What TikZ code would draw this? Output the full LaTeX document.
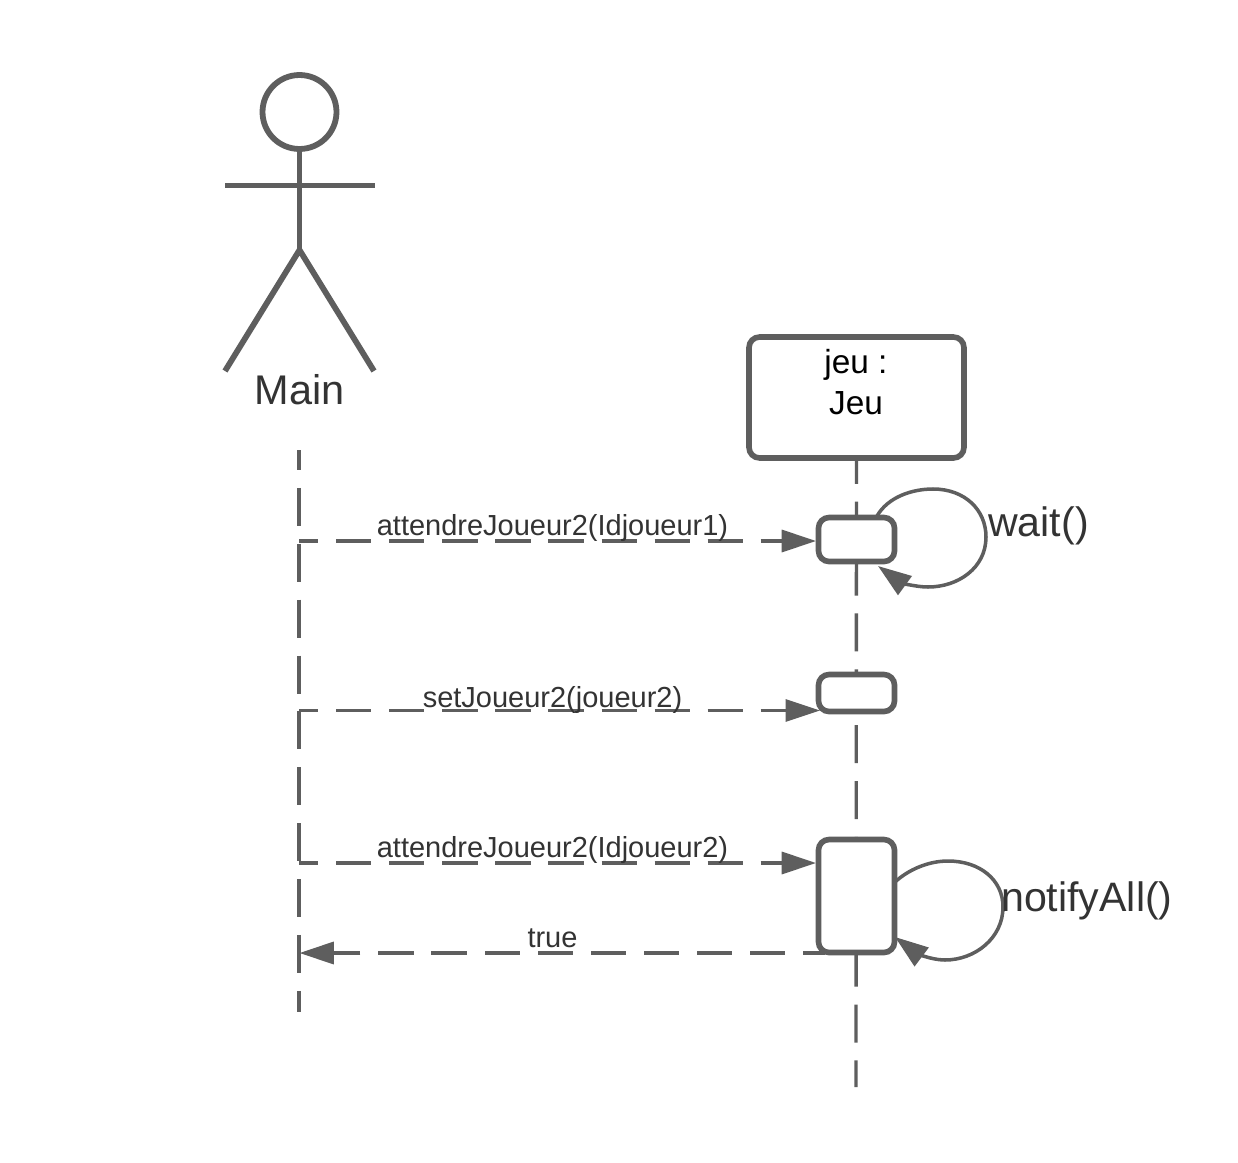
\documentclass[tikz,border=0pt]{standalone}
\usepackage{fontspec}
\setmainfont{Liberation Sans}
\usetikzlibrary{arrows.meta}
\definecolor{linegray}{HTML}{5E5E5E}
\definecolor{textgray}{HTML}{333333}
\tikzset{
    lifeline/.style={linegray, line width=1.9pt, dash pattern=on 21.6pt off 10.2pt},
    message/.style={linegray, line width=2pt, dash pattern=on 20pt off 10.2pt, dash phase=9pt, -{Triangle[length=19.5pt, width=12.5pt]}},
    selfcall/.style={linegray, line width=2pt, -{Triangle[length=19pt, width=13pt]}},
    activation/.style={draw=linegray, fill=white, line width=3.2pt, rounded corners=6pt, minimum width=1.52cm, inner sep=0pt},
    msglabel/.style={text=textgray, font=\fontsize{16.5}{19}\selectfont, anchor=base},
    calllabel/.style={text=textgray, font=\fontsize{23.4}{27}\selectfont, anchor=base west}
}
\begin{document}
\begin{tikzpicture}[x=0.02cm, y=-0.02cm]
    \useasboundingbox[fill=white] (0,0) rectangle (1238,1163);

    % Actor
    \node[circle, draw=linegray, line width=3.3pt, minimum size=1.48cm, inner sep=0pt] (head) at (299.5,112) {};
    \coordinate (hip) at (299.5,250);
    \coordinate (armL) at (225,185.5);
    \coordinate (armR) at (375,185.5);
    \coordinate (footL) at (225,371);
    \coordinate (footR) at (374,371);
    \draw[linegray, line width=3.3pt] (head.south) -- (hip);
    \draw[linegray, line width=3.3pt] (armL) -- (armR);
    \draw[linegray, line width=3.3pt] (footL) -- (hip) -- (footR);
    \node[text=textgray, font=\fontsize{23.6}{27}\selectfont, anchor=base] (main) at (299.5,404) {Main};

    % Lifelines
    \coordinate (mainTop) at (299,450);
    \coordinate (mainEnd) at (299,1012);
    \coordinate (jeuEnd) at (856,1087);
    \draw[lifeline, dash phase=10.2pt] (mainTop) -- (mainEnd);
    \node[draw=linegray, fill=white, line width=3.2pt, rounded corners=6pt, minimum width=4.3cm, minimum height=2.42cm, inner sep=0pt] (jeu) at (856.5,397.5) {};
    \draw[lifeline, dash phase=8.5pt] (jeu.south) -- (jeuEnd);
    \node[font=\fontsize{19}{23}\selectfont, align=center, anchor=base] (jeulabel) at (856,414) {jeu :\\Jeu};

    % Activations
    \node[activation, minimum height=0.88cm] (act1) at (856.5,539.5) {};
    \node[activation, minimum height=0.74cm] (act2) at (856.5,693) {};
    \node[activation, minimum height=2.26cm] (act3) at (856.5,896) {};

    % Messages
    \coordinate (m1) at (299,541);
    \coordinate (m2) at (299,710.5);
    \coordinate (m3) at (299,863);
    \coordinate (m4) at (299.5,953);
    \coordinate (j1) at (816,541);
    \coordinate (j2) at (820,710.5);
    \coordinate (j3) at (816,863);
    \coordinate (j4) at (825,953);
    \draw[message] (m1) -- (j1);
    \draw[message, line width=1.6pt] (m2) -- (j2);
    \draw[message] (m3) -- (j3);
    \draw[message, dash phase=7.4pt] (j4) -- (m4);
    \node[msglabel] (lab1) at (552.5,535) {attendreJoueur2(Idjoueur1)};
    \node[msglabel] (lab2) at (552.5,707) {setJoueur2(joueur2)};
    \node[msglabel] (lab3) at (552.5,857) {attendreJoueur2(Idjoueur2)};
    \node[msglabel] (lab4) at (552.5,947) {true};

    % Self calls
    \coordinate (w1) at (877,516);
    \coordinate (w2) at (878,566);
    \coordinate (n1) at (895,882);
    \coordinate (n2) at (895,937);
    \draw[selfcall] (w1) .. controls (888,497) and (912,489) .. (933,489)
        .. controls (965,489) and (986,510) .. (986,537)
        .. controls (986,568) and (958,587) .. (928,587)
        .. controls (915,587) and (900,582) .. (w2);
    \draw[selfcall] (n1) .. controls (908,870) and (928,861) .. (948,861)
        .. controls (980,861) and (1003,880) .. (1003,907)
        .. controls (1003,938) and (975,960) .. (945,960)
        .. controls (930,960) and (915,952) .. (n2);
    \node[calllabel] (wait) at (982,536) {wait()};
    \node[calllabel] (notify) at (995,911) {notifyAll()};
\end{tikzpicture}
\end{document}
